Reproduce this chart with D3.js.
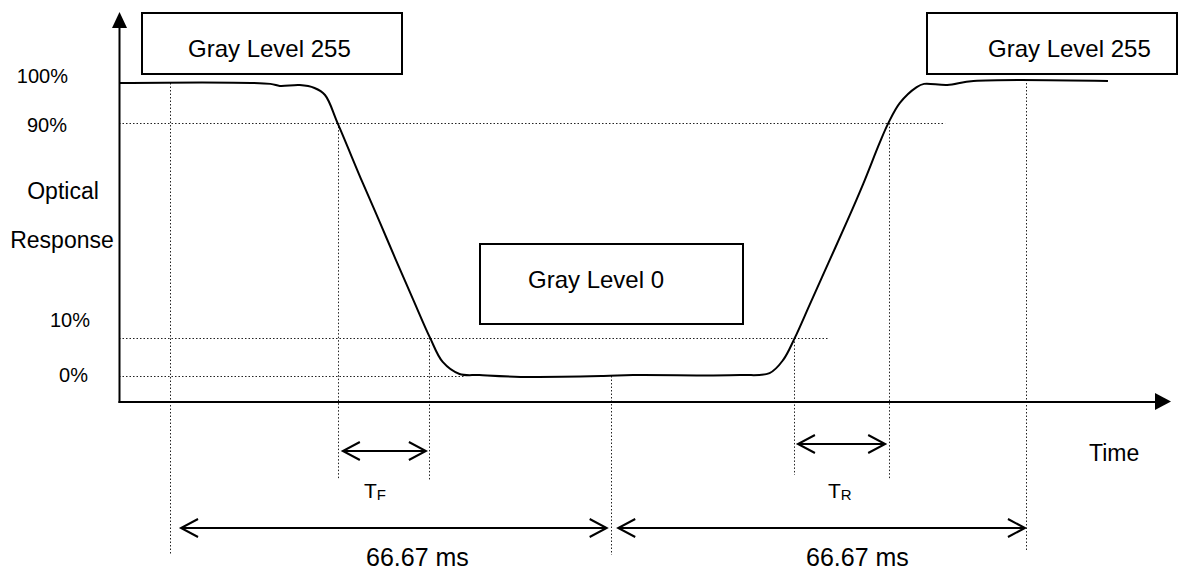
<!DOCTYPE html>
<html>
<head>
<meta charset="utf-8">
<script src="https://cdn.jsdelivr.net/npm/d3@7"></script>
<style>
  body { margin: 0; background: #fff; }
  text { font-family: "Liberation Sans", Arial, sans-serif; fill: #000; }
</style>
</head>
<body>
<div id="chart"></div>
<script>
// time is in % of the time-axis length, response in % (0 = black, 100 = white)
var curveTime = [0, 14.4, 15.3, 17.2, 18.6, 19.6, 20.8, 23.2, 24.8, 26.3, 28.0, 29.6, 30.8, 32.4, 34.3, 38.2, 46.1, 48.9,
                 59.1, 61.9, 63.2, 64.3, 65.7, 67.5, 69.3, 70.8, 72.4, 73.2, 74.3, 75.9, 76.6, 78.8, 81.3, 94.1];
var curveResp = [100, 99.7, 99.0, 99.3, 98.3, 95.9, 86.3, 65.8, 52.6, 40.0, 26.0, 13.0, 4.8, 0.7, 0.3, -0.3, 0, 0.3,
                 0.3, 1.0, 5.5, 13.0, 24.2, 38.6, 53.0, 65.5, 79.8, 86.3, 93.2, 98.6, 99.7, 99.3, 100.7, 100.7];

var levelLabels = ["100%", "90%", "10%", "0%"];
var labelLevels = [102.4, 85.7, 19.1, 0.3];

// horizontal dotted guides
var guideLevels = [86.3, 13.0, 0];
var guideEnds = [78.6, 67.6, 32.9];

// vertical dotted guides
var markTimes = [4.85, 20.84, 29.5, 46.8, 64.2, 73.3, 86.3];
var markTops = [100, 86.3, 13.0, 0, 13.0, 86.3, 100];

// dimension arrows
var arrowFrom = [21.3, 64.6, 5.9, 47.5];
var arrowTo = [29.2, 72.9, 46.4, 86.2];

var boxLabels = ["Gray Level 255", "Gray Level 255", "Gray Level 0"];

var width = 1178, height = 572;

var x = d3.scaleLinear().domain([0, 100]).range([119, 1170]);
var y = d3.scaleLinear().domain([0, 100]).range([376, 83]);

var svg = d3.select("#chart").append("svg")
  .attr("width", width)
  .attr("height", height);

var dotted = { stroke: "#222", width: 1, dash: "1.5 2" };

/* dotted guides */
svg.append("g").selectAll("line")
  .data(guideLevels)
  .enter().append("line")
  .attr("x1", x(0)).attr("x2", (d, i) => x(guideEnds[i]))
  .attr("y1", d => Math.round(y(d)) + 0.5).attr("y2", d => Math.round(y(d)) + 0.5)
  .attr("stroke", dotted.stroke).attr("stroke-width", dotted.width)
  .attr("stroke-dasharray", dotted.dash);

var markBottoms = [555, 480, 480, 555, 475, 480, 552];
svg.append("g").selectAll("line")
  .data(markTimes)
  .enter().append("line")
  .attr("x1", d => Math.round(x(d)) + 0.5).attr("x2", d => Math.round(x(d)) + 0.5)
  .attr("y1", (d, i) => y(markTops[i])).attr("y2", (d, i) => markBottoms[i])
  .attr("stroke", dotted.stroke).attr("stroke-width", dotted.width)
  .attr("stroke-dasharray", dotted.dash);

/* axes */
var axisY = 401.5;
svg.append("g")
  .attr("transform", `translate(0, ${axisY})`)
  .call(d3.axisBottom(d3.scaleLinear().range([118, 1156])).tickValues([]).tickSizeOuter(0))
  .select(".domain").attr("stroke", "#000").attr("stroke-width", 2);
svg.append("path").attr("d", "M1155,393L1171,401.5L1155,410Z").attr("fill", "#000");

svg.append("g")
  .attr("transform", "translate(119, 0)")
  .call(d3.axisLeft(d3.scaleLinear().range([axisY + 1, 26])).tickValues([]).tickSizeOuter(0))
  .select(".domain").attr("stroke", "#000").attr("stroke-width", 2);
svg.append("path").attr("d", "M112,28L119.5,12L127,28Z").attr("fill", "#000");

/* response curve */
var pts = curveTime.map((t, i) => [t, curveResp[i]]);
svg.append("path")
  .datum(pts)
  .attr("fill", "none")
  .attr("stroke", "#000")
  .attr("stroke-width", 2)
  .attr("d", d3.line().x(d => x(d[0])).y(d => y(d[1])).curve(d3.curveCatmullRom.alpha(0.5)));

/* level labels */
var labelRight = [68, 67, 90, 88];
svg.append("g").selectAll("text")
  .data(levelLabels)
  .enter().append("text")
  .attr("x", (d, i) => labelRight[i])
  .attr("y", (d, i) => y(labelLevels[i]))
  .attr("dy", "0.36em")
  .attr("text-anchor", "end")
  .style("font-size", "20px")
  .text(d => d);

svg.append("text").attr("x", 63).attr("y", 199).attr("text-anchor", "middle")
  .style("font-size", "23px").text("Optical");
svg.append("text").attr("x", 62).attr("y", 248).attr("text-anchor", "middle")
  .style("font-size", "23px").text("Response");
svg.append("text").attr("x", 1089).attr("y", 461)
  .style("font-size", "23px").text("Time");

/* gray level boxes */
var boxes = [
  { x: 142, y: 13, w: 260, h: 61, tx: 188, ty: 57 },
  { x: 927, y: 13, w: 250, h: 61, tx: 988, ty: 57 },
  { x: 480, y: 244, w: 263, h: 80, tx: 528, ty: 288 }
];
var boxG = svg.append("g").selectAll("g")
  .data(boxLabels)
  .enter().append("g");
boxG.append("rect")
  .attr("x", (d, i) => boxes[i].x).attr("y", (d, i) => boxes[i].y)
  .attr("width", (d, i) => boxes[i].w).attr("height", (d, i) => boxes[i].h)
  .attr("fill", "#fff").attr("stroke", "#000").attr("stroke-width", 2);
boxG.append("text")
  .attr("x", (d, i) => boxes[i].tx).attr("y", (d, i) => boxes[i].ty)
  .style("font-size", "24px")
  .text(d => d);

/* dimension arrows */
var arrowY = [451, 444, 528, 528];
var head = 17, spread = 9;
var arrows = svg.append("g")
  .attr("fill", "none").attr("stroke", "#000").attr("stroke-width", 2)
  .selectAll("g")
  .data(arrowFrom)
  .enter().append("g");
arrows.append("path")
  .attr("d", (d, i) => {
    var a = x(d), b = x(arrowTo[i]), yy = arrowY[i];
    return `M${a},${yy}L${b},${yy}` +
      `M${a + head},${yy - spread}L${a},${yy}L${a + head},${yy + spread}` +
      `M${b - head},${yy - spread}L${b},${yy}L${b - head},${yy + spread}`;
  });

/* time labels */
var tf = svg.append("text").attr("x", 364).attr("y", 498).style("font-size", "21px");
tf.append("tspan").text("T");
tf.append("tspan").attr("dy", "2").style("font-size", "15px").text("F");
var tr = svg.append("text").attr("x", 828).attr("y", 498).style("font-size", "21px");
tr.append("tspan").text("T");
tr.append("tspan").attr("dy", "2").style("font-size", "15px").text("R");

svg.append("text").attr("x", 366).attr("y", 566).style("font-size", "25px").text("66.67 ms");
svg.append("text").attr("x", 806).attr("y", 566).style("font-size", "25px").text("66.67 ms");
</script>
</body>
</html>
